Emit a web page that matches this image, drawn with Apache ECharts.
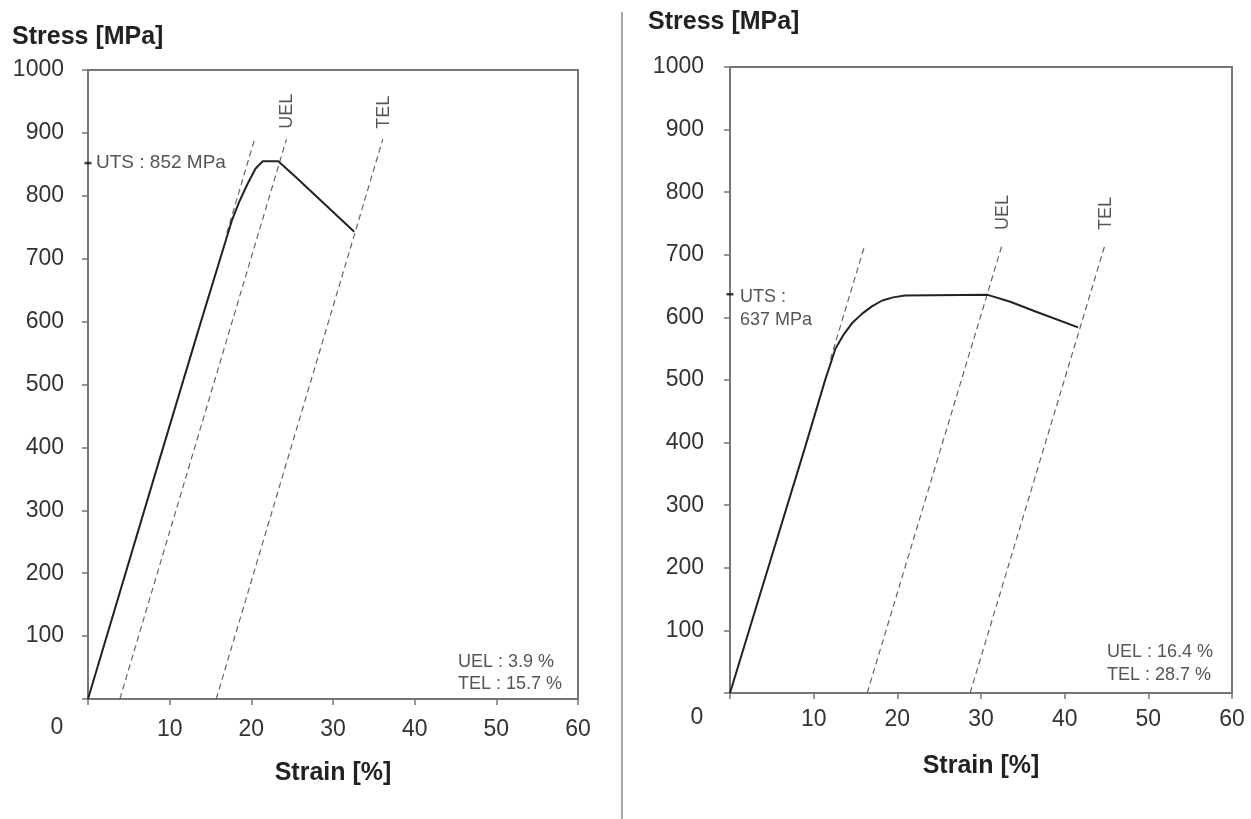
<!DOCTYPE html>
<html>
<head>
<meta charset="utf-8">
<script src="https://cdn.jsdelivr.net/npm/echarts@6/dist/echarts.min.js"></script>
<style>
  html, body { margin: 0; padding: 0; background: #fff; }
  #main { width: 1251px; height: 819px; }
</style>
</head>
<body>
<div id="main"></div>
<script>
// left specimen
const strainA = [0, 8.0, 13.6, 17.6, 18.5, 19.5, 20.5, 21.4, 23.3, 25.5, 28.8, 32.6]
const stressA = [0, 348, 590, 760, 790, 818, 843, 855, 855, 829, 789, 743]
const elasticA = [[17.0, 741], [20.4, 890]]
const uelLineA = [[3.9, 0], [24.3, 890]]
const telLineA = [[15.7, 0], [36.1, 890]]
const utsA = 852
const uelA = 3.9
const telA = 15.7

// right specimen
const strainB = [0, 3.35, 8.96, 11.35, 12.6, 13.6, 14.6, 15.8, 17.0, 18.2, 19.5, 20.9, 30.8, 33.5, 36.2, 41.6]
const stressB = [0, 147, 392, 499, 550, 573, 591, 606, 618, 627, 632, 635, 636, 625, 611, 584]
const elasticB = [[12.0, 533], [16.1, 715]]
const uelLineB = [[16.4, 0], [32.5, 715]]
const telLineB = [[28.7, 0], [44.8, 715]]
const utsB = 637
const uelB = 16.4
const telB = 28.7

const strainTicks = [0, 10, 20, 30, 40, 50, 60]
const stressTicks = [0, 100, 200, 300, 400, 500, 600, 700, 800, 900, 1000]

const font = 'Liberation Sans, Arial, sans-serif'
const axisGray = '#767676'

const pairs = function (xs, ys) {
  return xs.map((x, i) => [x, ys[i]])
}

const makeX = function (idx, margin, gap) {
  return {
    gridIndex: idx,
    type: 'value',
    min: strainTicks[0],
    max: strainTicks[strainTicks.length - 1],
    interval: 10,
    name: 'Strain [%]',
    nameLocation: 'middle',
    nameGap: gap,
    nameMoveOverlap: false,
    nameTextStyle: { fontFamily: font, fontSize: 25, fontWeight: 'bold', color: '#222' },
    axisLine: { lineStyle: { color: axisGray, width: 2 } },
    axisTick: { length: 6, lineStyle: { color: axisGray, width: 1.5 } },
    axisLabel: {
      fontFamily: font, fontSize: 23, color: '#333', margin: margin,
      formatter: v => (v === 0 ? '' : v)
    },
    splitLine: { show: false }
  }
}
const makeY = function (idx, margin) {
  return {
    gridIndex: idx,
    type: 'value',
    min: stressTicks[0],
    max: stressTicks[stressTicks.length - 1],
    interval: 100,
    axisLine: { show: true, lineStyle: { color: axisGray, width: 2 } },
    axisTick: { show: true, length: 6, lineStyle: { color: axisGray, width: 1.5 } },
    axisLabel: {
      fontFamily: font, fontSize: 23, color: '#333', margin: margin,
      formatter: v => (v === 0 ? '' : v)
    },
    splitLine: { show: false }
  }
}
const curve = function (idx, data) {
  return {
    type: 'line', xAxisIndex: idx, yAxisIndex: idx, data: data,
    showSymbol: false,
    lineStyle: { color: '#222', width: 2, join: 'round' }, silent: true, z: 3
  }
}
const dashed = function (idx, data) {
  return {
    type: 'line', xAxisIndex: idx, yAxisIndex: idx, data: data,
    showSymbol: false,
    lineStyle: { color: '#666', width: 1.2, type: [6, 4] }, silent: true, z: 2
  }
}
const utsTick = function (idx, uts) {
  return {
    type: 'scatter', xAxisIndex: idx, yAxisIndex: idx, data: [[0, uts]],
    symbol: 'rect', symbolSize: [7, 2.5], clip: false,
    itemStyle: { color: '#111' }, silent: true, z: 5
  }
}

const chart = echarts.init(document.getElementById('main'))
const option = {
  animation: false,
  backgroundColor: '#fff',
  grid: [
    { left: 88, top: 70, width: 490, height: 629, show: true, borderColor: axisGray, borderWidth: 2 },
    { left: 730, top: 67, width: 502, height: 626, show: true, borderColor: axisGray, borderWidth: 2 }
  ],
  xAxis: [makeX(0, 19, 62), makeX(1, 15, 61)],
  yAxis: [makeY(0, 24), makeY(1, 26)],
  series: [
    curve(0, pairs(strainA, stressA)),
    dashed(0, elasticA),
    dashed(0, uelLineA),
    dashed(0, telLineA),
    utsTick(0, utsA),
    curve(1, pairs(strainB, stressB)),
    dashed(1, elasticB),
    dashed(1, uelLineB),
    dashed(1, telLineB),
    utsTick(1, utsB)
  ]
}
chart.setOption(option)

// text annotations placed from data positions
const px = function (idx, pt) {
  return chart.convertToPixel({ gridIndex: idx }, pt)
}
const note = { fontFamily: font, fontSize: 18, fill: '#555' }
const title = { fontFamily: font, fontSize: 25, fontWeight: 'bold', fill: '#222' }
const graphics = []

// divider
graphics.push({ type: 'line', shape: { x1: 622, y1: 12, x2: 622, y2: 819 }, style: { stroke: '#888', lineWidth: 1.5 } })

// y titles and the origin "0"
graphics.push({ type: 'text', x: 12, y: 37, style: Object.assign({ text: 'Stress [MPa]', verticalAlign: 'middle' }, title) })
graphics.push({ type: 'text', x: 648, y: 22, style: Object.assign({ text: 'Stress [MPa]', verticalAlign: 'middle' }, title) })
graphics.push({ type: 'text', x: 57, y: 728, style: { text: '0', align: 'center', verticalAlign: 'middle', fontFamily: font, fontSize: 23, fill: '#333' } })
graphics.push({ type: 'text', x: 697, y: 718, style: { text: '0', align: 'center', verticalAlign: 'middle', fontFamily: font, fontSize: 23, fill: '#333' } })

// rotated UEL / TEL labels above the offset lines
const vlabel = function (idx, pt, text, lift) {
  const p = px(idx, pt)
  graphics.push({
    type: 'text', x: p[0] + 1, y: p[1] - lift, rotation: Math.PI / 2,
    style: Object.assign({ text: text, align: 'center', verticalAlign: 'middle' }, note)
  })
}
vlabel(0, uelLineA[1], 'UEL', 28)
vlabel(0, telLineA[1], 'TEL', 27)
vlabel(1, uelLineB[1], 'UEL', 33)
vlabel(1, telLineB[1], 'TEL', 32)

// UTS notes
const pA = px(0, [0, utsA])
graphics.push({ type: 'text', x: pA[0] + 8, y: pA[1], style: Object.assign({ text: 'UTS : ' + utsA + ' MPa', verticalAlign: 'middle' }, note, { fontSize: 19 }) })
const pB = px(1, [0, utsB])
graphics.push({ type: 'text', x: pB[0] + 10, y: pB[1] - 9, style: Object.assign({ text: 'UTS :\n' + utsB + ' MPa', verticalAlign: 'top', lineHeight: 23 }, note) })

// elongation notes
graphics.push({ type: 'text', x: 458, y: 651, style: Object.assign({ text: 'UEL : ' + uelA + ' %\nTEL : ' + telA + ' %', verticalAlign: 'top', lineHeight: 22 }, note) })
graphics.push({ type: 'text', x: 1107, y: 641, style: Object.assign({ text: 'UEL : ' + uelB + ' %\nTEL : ' + telB + ' %', verticalAlign: 'top', lineHeight: 23 }, note) })

chart.setOption({ graphic: graphics })
</script>
</body>
</html>
